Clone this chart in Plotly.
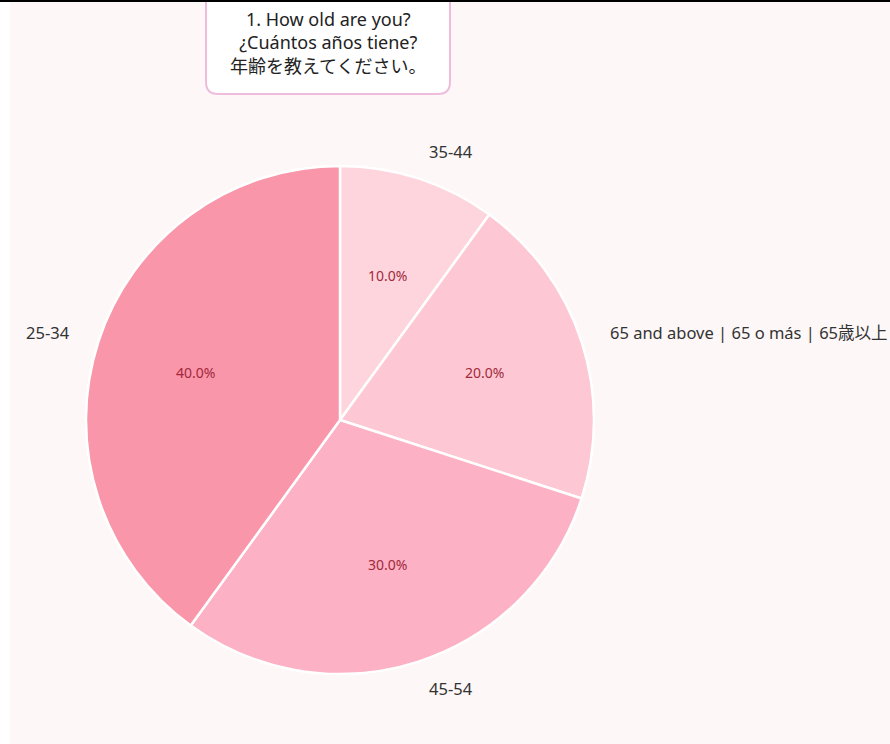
import math
import plotly.graph_objects as go

labels = ["35-44", "65 and above | 65 o más | 65歳以上", "45-54", "25-34"]
values = [10, 20, 30, 40]
colors = ["#fed4dd", "#fdc8d3", "#fcb1c4", "#f996a9"]
title_lines = ["1. How old are you?", "¿Cuántos años tiene?", "年齢を教えてください。"]

W, H = 890, 744

def px(x):
    return x / W

def py(y):
    return 1 - y / H

# pie geometry (pixels)
CX, CY, R = 340, 420, 254
domain = dict(x=[px(CX - R), px(CX + R)], y=[py(CY + R), py(CY - R)])

fig = go.Figure()
fig.add_trace(go.Pie(
    labels=labels, values=values, sort=False, direction="clockwise", rotation=0,
    domain=domain,
    marker=dict(colors=colors, line=dict(color="white", width=2.5)),
    textinfo="none", hoverinfo="label+percent",
    showlegend=False, automargin=False,
))

# label positions derived from the data (slice mid-angles)
total = sum(values)
annotations = []
cum = 0
for lab, v in zip(labels, values):
    mid = (cum + v / 2) / total * 2 * math.pi
    cum += v
    s, c = math.sin(mid), math.cos(mid)
    r_in = 0.6 * R
    annotations.append(dict(
        text=f"{v / total * 100:.1f}%", x=px(CX + r_in * s), y=py(CY - r_in * c),
        xref="paper", yref="paper", showarrow=False, xanchor="center", yanchor="middle",
        font=dict(size=14, color="#a3283c", family="Noto Sans"),
    ))
    r_out = 1.11 * R
    annotations.append(dict(
        text=lab, x=px(CX + r_out * s), y=py(CY - r_out * c),
        xref="paper", yref="paper", showarrow=False,
        xanchor="left" if s > 0 else "right", yanchor="middle",
        font=dict(size=16.5, color="#333333", family="Noto Sans, Noto Sans CJK JP"),
    ))

annotations.append(dict(
    text="<br>".join(title_lines), x=px(328), y=py(43), xref="paper", yref="paper",
    showarrow=False, xanchor="center", yanchor="middle", align="center",
    font=dict(size=18, color="#222222", family="Noto Sans, Noto Sans CJK JP"),
))

# rounded title box
x0, x1, y0, y1, r = px(206), px(450), py(-20), py(94), 12
rx, ry = r / W, r / H
path = (f"M {x0+rx},{y1} L {x1-rx},{y1} Q {x1},{y1} {x1},{y1+ry} "
        f"L {x1},{y0-ry} Q {x1},{y0} {x1-rx},{y0} L {x0+rx},{y0} "
        f"Q {x0},{y0} {x0},{y0-ry} L {x0},{y1+ry} Q {x0},{y1} {x0+rx},{y1} Z")

fig.update_layout(
    width=W, height=H, margin=dict(l=0, r=0, t=0, b=0),
    paper_bgcolor="white",
    shapes=[
        dict(type="rect", xref="paper", yref="paper", x0=px(10), x1=1, y0=0, y1=py(2),
             fillcolor="#fdf7f7", line=dict(width=0), layer="below"),
        dict(type="path", xref="paper", yref="paper", path=path,
             fillcolor="white", line=dict(color="#efbddb", width=2)),
        dict(type="line", xref="paper", yref="paper", x0=0, x1=1, y0=py(1), y1=py(1),
             line=dict(color="black", width=2)),
    ],
    annotations=annotations,
)

fig.write_html(
    "out.html",
    config={"displayModeBar": False},
    post_script="document.body.style.margin='0';document.body.style.overflow='hidden';",
)
